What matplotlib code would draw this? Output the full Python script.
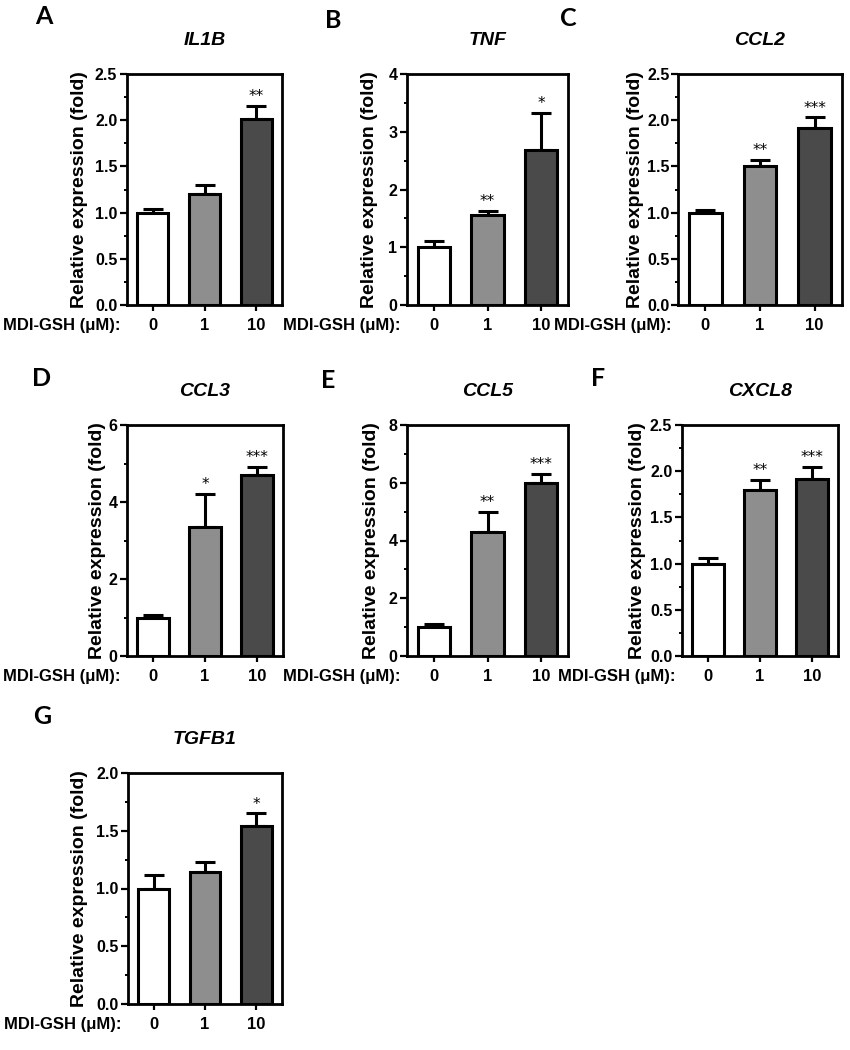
import matplotlib
matplotlib.use("Agg")
import matplotlib.pyplot as plt
from matplotlib.ticker import MultipleLocator, FormatStrFormatter

# ---------------- data ----------------
doses = ["0", "1", "10"]
genes = ["IL1B", "TNF", "CCL2", "CCL3", "CCL5", "CXCL8", "TGFB1"]
panel_letters = ["A", "B", "C", "D", "E", "F", "G"]

il1b_mean = [1.00, 1.20, 2.01]
il1b_sem = [0.04, 0.10, 0.14]
il1b_sig = ["", "", "**"]

tnf_mean = [1.00, 1.55, 2.68]
tnf_sem = [0.10, 0.08, 0.65]
tnf_sig = ["", "**", "*"]

ccl2_mean = [1.00, 1.50, 1.92]
ccl2_sem = [0.03, 0.07, 0.11]
ccl2_sig = ["", "**", "***"]

ccl3_mean = [1.00, 3.35, 4.70]
ccl3_sem = [0.07, 0.85, 0.22]
ccl3_sig = ["", "*", "***"]

ccl5_mean = [1.00, 4.30, 6.00]
ccl5_sem = [0.12, 0.70, 0.30]
ccl5_sig = ["", "**", "***"]

cxcl8_mean = [1.00, 1.80, 1.92]
cxcl8_sem = [0.06, 0.11, 0.13]
cxcl8_sig = ["", "**", "***"]

tgfb1_mean = [1.00, 1.14, 1.54]
tgfb1_sem = [0.12, 0.09, 0.11]
tgfb1_sig = ["", "", "*"]

y_max = [2.5, 4, 2.5, 6, 8, 2.5, 2.0]
y_major = [0.5, 1, 0.5, 2, 2, 0.5, 0.5]

means = [il1b_mean, tnf_mean, ccl2_mean, ccl3_mean, ccl5_mean, cxcl8_mean, tgfb1_mean]
sems = [il1b_sem, tnf_sem, ccl2_sem, ccl3_sem, ccl5_sem, cxcl8_sem, tgfb1_sem]
sigs = [il1b_sig, tnf_sig, ccl2_sig, ccl3_sig, ccl5_sig, cxcl8_sig, tgfb1_sig]

bar_colors = ["#ffffff", "#8e8e8e", "#4a4a4a"]

# ---------------- layout (pixels) ----------------
W, H = 850, 1050
boxes = [
    (127, 282, 74, 305),
    (407, 568, 74, 305),
    (678, 842, 74, 305),
    (127, 283, 425, 656),
    (407, 568, 425, 656),
    (682, 838, 425, 656),
    (128, 282, 773, 1004),
]
ylabel_off = [47, 37, 43, 30, 35, 45, 48]
ytick_pad = [2, 2, 1, 2, 2, 2, 2]
letter_pos = [(44, 17), (333, 20), (568, 19), (42, 378), (328, 380), (598, 378), (42, 716)]

plt.rcParams["font.family"] = ["Liberation Sans", "DejaVu Sans"]

fig = plt.figure(figsize=(W / 100, H / 100), dpi=100)

for i in range(7):
    l, r, t, b = boxes[i]
    ax = fig.add_axes([l / W, 1 - b / H, (r - l) / W, (b - t) / H])
    x = list(range(len(doses)))
    ax.bar(x, means[i], width=0.6, color=bar_colors, edgecolor="black",
           linewidth=2.2, zorder=3)
    ax.errorbar(x, means[i], yerr=[[0] * 3, sems[i]], fmt="none",
                ecolor="black", elinewidth=2.2, capsize=7.5, capthick=2.2,
                zorder=2)
    for xi, m, s, sg in zip(x, means[i], sems[i], sigs[i]):
        if sg:
            ax.annotate(sg, xy=(xi, m + s), xytext=(0, 3.5),
                        textcoords="offset points", ha="center", va="baseline",
                        fontsize=11, family="DejaVu Sans")
    ax.set_xlim(-0.5, 2.5)
    ax.set_ylim(0, y_max[i])
    ax.yaxis.set_major_locator(MultipleLocator(y_major[i]))
    ax.yaxis.set_minor_locator(MultipleLocator(y_major[i] / 2))
    if y_major[i] < 1:
        ax.yaxis.set_major_formatter(FormatStrFormatter("%.1f"))
    else:
        ax.yaxis.set_major_formatter(FormatStrFormatter("%d"))
    ax.set_xticks(x)
    ax.set_xticklabels(doses)
    for sp in ax.spines.values():
        sp.set_linewidth(2.0)
    ax.tick_params(axis="y", which="major", length=5, width=1.6, labelsize=11.5,
                   pad=ytick_pad[i])
    ax.tick_params(axis="y", which="minor", length=2.5, width=1.4)
    ax.tick_params(axis="x", which="major", length=4.5, width=1.6, labelsize=12, pad=5)
    for lab in ax.get_xticklabels() + ax.get_yticklabels():
        lab.set_fontweight("bold")
    ax.set_ylabel("Relative expression (fold)", fontsize=14, fontweight="bold",
                  va="center")
    ax.yaxis.set_label_coords(-ylabel_off[i] / (r - l), 0.5)
    ax.text(0.5, 1 + 34 / (b - t), genes[i], transform=ax.transAxes,
            ha="center", va="center", fontsize=14, fontweight="bold",
            fontstyle="italic")
    ax.annotate("MDI-GSH (\u03bcM):", xy=(0, 0), xycoords="axes fraction",
                xytext=(-5, -14.5), textcoords="offset points",
                ha="right", va="center", fontsize=12, fontweight="bold")
    lx, ly = letter_pos[i]
    fig.text(lx / W, 1 - ly / H, panel_letters[i], ha="center", va="center",
             fontsize=18, fontweight="bold", family="Lato")

fig.savefig("out.png", dpi=100)
